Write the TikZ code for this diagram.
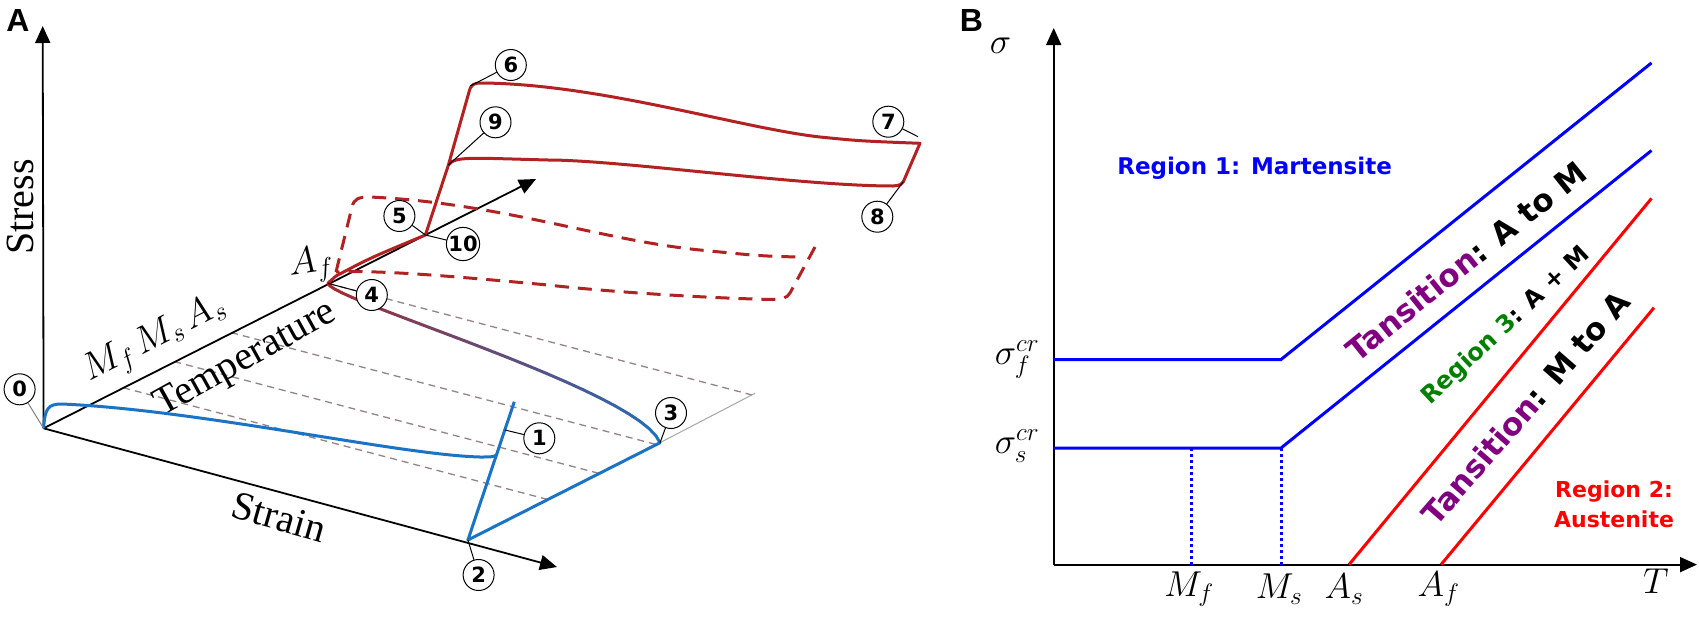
\RequirePackage{fix-cm}
\documentclass[tikz,border=0pt]{standalone}
\usepackage{fontspec}
\setmainfont{Liberation Serif}
\newfontfamily\lblfont{Liberation Sans}
\newfontfamily\numfont{DejaVu Sans}
\usetikzlibrary{arrows.meta,calc}
\definecolor{ared}{RGB}{178,34,34}
\definecolor{ablue}{RGB}{26,115,196}
\definecolor{gdash}{RGB}{150,130,130}
\definecolor{bblue}{RGB}{0,0,255}
\definecolor{bred}{RGB}{255,0,0}
\definecolor{bpurple}{RGB}{128,0,128}
\definecolor{bgreen}{RGB}{0,128,0}
\begin{document}
\begin{tikzpicture}[x=1pt,y=-1pt,
  axis/.style={line width=1.8pt,-{Triangle[length=17pt,width=15pt]}},
  num/.style={circle,draw,line width=1pt,fill=white,minimum size=31pt,inner sep=0pt,font=\numfont\bfseries\fontsize{21}{21}\selectfont},
  lead/.style={line width=1pt},
  ser/.style={font=\fontsize{40}{40}\selectfont},
  bsans/.style={font=\numfont\bfseries},
  gd/.style={gdash,line width=1.3pt,dash pattern=on 7pt off 5pt},
  rd/.style={ared,line width=3pt,dash pattern=on 14pt off 9pt},
  rs/.style={ared,line width=3pt,line join=round},
  bl/.style={ablue,line width=3pt,line join=round}]
\useasboundingbox (0,0) rectangle (1699,616);
% ---------- Panel A ----------
\node[font=\lblfont\bfseries\fontsize{32}{32}\selectfont] (lA) at (18,20) {A};
\coordinate (O) at (43.6,428.3);
\coordinate (Stop) at (42.7,26);
\coordinate (Send) at (557,567);
\coordinate (Tend) at (536,179);
\coordinate (Af) at (327.8,283.3);
\coordinate (P2) at (467.9,540);
\coordinate (P1) at (514.3,401.7);
\coordinate (P3) at (660,442.7);
\coordinate (G) at (755,393.3);
\coordinate (J5) at (425.4,235);
\coordinate (C9) at (448.4,165);
\coordinate (C6) at (470.2,86);
\coordinate (E7) at (920,143.3);
\coordinate (E8) at (903.3,181.7);
% grey dashed grid
\foreach \t in {0.28,0.46,0.66,1.0}{
  \draw[gd] ($(O)!\t!(Af)$) -- ++(424.3,111.7);
}
\draw[gray!70,line width=1pt] (P3) -- (G);
% axes
\draw[axis] (O) -- (Stop);
\draw[axis] (O) -- (Send);
\draw[axis] (O) -- (Tend);
% axis labels
\node[ser,rotate=90] (tStress) at (20,207) {Stress};
\node[ser,rotate=-16] (tStrain) at (279,517) {Strain};
\node[ser,rotate=29] (tTemp) at (246,360) {Temperature};
\node[rotate=27,font=\fontsize{38}{38}\selectfont] (tM) at (155,340) {$M_f\,M_s\,A_s$};
\node[rotate=8,font=\fontsize{38}{38}\selectfont] (tAf) at (311,265) {$A_f$};
% dashed red loop
\draw[rd] (336,272) -- (352,207) .. controls (354,199) and (358,197) .. (370,197)
  .. controls (500,203) and (600,240) .. (700,250) .. controls (760,256) .. (798,257);
\draw[rd] (815,247) -- (790,293) .. controls (787,298) and (782,299.5) .. (773,299.5)
  .. controls (700,298) and (600,291) .. (548,285) .. controls (450,276) and (380,270) .. (336,272);
% blue curves
\draw[bl] (O) .. controls (45,408) and (48,404) .. (62,404)
  .. controls (200,410) and (400,455) .. (480,457) .. controls (490,457) and (494,457) .. (496.4,455);
\draw[bl] (P1) -- (P2) -- (P3);
% gradient curve 4 -> 3
\foreach \i in {0,...,23}{
  \pgfmathsetmacro\ta{\i/24}
  \pgfmathsetmacro\tb{(\i+1)/24}
  \pgfmathsetmacro\xa{(1-\ta)^3*327.8+3*(1-\ta)^2*\ta*330+3*(1-\ta)*\ta^2*640+\ta^3*660}
  \pgfmathsetmacro\ya{(1-\ta)^3*283.3+3*(1-\ta)^2*\ta*300+3*(1-\ta)*\ta^2*390+\ta^3*442.7}
  \pgfmathsetmacro\xb{(1-\tb)^3*327.8+3*(1-\tb)^2*\tb*330+3*(1-\tb)*\tb^2*640+\tb^3*660}
  \pgfmathsetmacro\yb{(1-\tb)^3*283.3+3*(1-\tb)^2*\tb*300+3*(1-\tb)*\tb^2*390+\tb^3*442.7}
  \pgfmathsetmacro\mx{100*\i/23}
  \draw[color=ablue!\mx!ared,line width=3pt,line cap=round] (\xa,\ya) -- (\xb,\yb);
}
% solid red path
\draw[rs] (Af) -- (336,276) .. controls (370,258) .. (J5) -- (C9) -- (469,92)
  .. controls (471,84) and (474,83) .. (482,83)
  .. controls (600,84) and (740,128) .. (820,137) .. controls (860,141) .. (E7)
  -- (E8) .. controls (901,185) .. (893,186)
  .. controls (800,186) and (620,160) .. (548,160) .. controls (470,158) and (455,156) .. (C9);
% numbered circles
\node[num] (n0) at (19.6,389.3) {0};
\node[num] (n1) at (539.3,438.3) {1};
\node[num] (n2) at (478.6,575) {2};
\node[num] (n3) at (671,413) {3};
\node[num] (n4) at (371.8,295) {4};
\node[num] (n5) at (399.4,216) {5};
\node[num] (n6) at (510.8,65) {6};
\node[num] (n7) at (888.3,121.7) {7};
\node[num] (n8) at (877.3,216.7) {8};
\node[num] (n9) at (495.5,122.3) {9};
\node[num] (n10) at (463,244) {10};
\coordinate (L1) at (505,430);
\coordinate (L7) at (918,136.7);
\draw[lead,gray] (n0) -- (O);
\draw[lead] (n1) -- (L1);
\draw[lead] (n2) -- (P2);
\draw[lead] (n3) -- (P3);
\draw[lead] (n4) -- (Af);
\draw[lead] (n5) -- (J5);
\draw[lead] (n10) -- (J5);
\draw[lead] (n6) -- (C6);
\draw[lead] (n9) -- (C9);
\draw[lead] (n7) -- (L7);
\draw[lead] (n8) -- (E8);
% ---------- Panel B ----------
\node[font=\lblfont\bfseries\fontsize{32}{32}\selectfont] (lB) at (971.5,20) {B};
\coordinate (BO) at (1053.7,564.6);
\coordinate (BY) at (1053.7,28);
\coordinate (BX) at (1697,564.6);
\draw[axis] (BO) -- (BY);
\draw[axis] (BO) -- (BX);
\draw[bblue,line width=3pt] (1053.7,359.5) -- (1281,359.5) -- (1651.5,62.9);
\draw[bblue,line width=3pt] (1053.7,448) -- (1281,448) -- (1651.5,150.5);
\draw[bblue,line width=3pt,dash pattern=on 3pt off 3pt] (1191.7,448) -- (1191.7,564.6);
\draw[bblue,line width=3pt,dash pattern=on 3pt off 3pt] (1281,448) -- (1281,564.6);
\draw[bred,line width=3pt] (1349,564.6) -- (1651.5,198.4);
\draw[bred,line width=3pt] (1441,564.6) -- (1654,307.7);
\begin{scope}[font=\fontsize{36}{36}\selectfont]
\node (bs) at (1000.5,46) {$\sigma$};
\node (bsf) at (1017,359.5) {$\sigma_f^{cr}$};
\node (bss) at (1017,446) {$\sigma_s^{cr}$};
\node (bmf) at (1189,589) {$M_f$};
\node (bms) at (1279,589) {$M_s$};
\node (bas) at (1344,589) {$A_s$};
\node (baf) at (1438.5,589) {$A_f$};
\node (bT) at (1656,581) {$T$};
\end{scope}
\node[bsans,text=bblue,font=\numfont\bfseries\fontsize{23}{23}\selectfont] (r1) at (1254.6,168) {Region 1: Martensite};
\node[rotate=38.8,font=\numfont\bfseries\fontsize{31}{31}\selectfont] (t1) at (1466,261) {\textcolor{bpurple}{Tansition}: A to M};
\node[rotate=43,font=\numfont\bfseries\fontsize{24}{24}\selectfont] (r3) at (1506,326) {\textcolor{bgreen}{Region 3}: A + M};
\node[rotate=49,font=\numfont\bfseries\fontsize{31}{31}\selectfont] (t2) at (1525.6,407.5) {\textcolor{bpurple}{Tansition}: M to A};
\node[text=bred,align=center,font=\numfont\bfseries\fontsize{22}{30}\selectfont] (r2) at (1614,504) {Region 2:\\Austenite};
\end{tikzpicture}
\end{document}
